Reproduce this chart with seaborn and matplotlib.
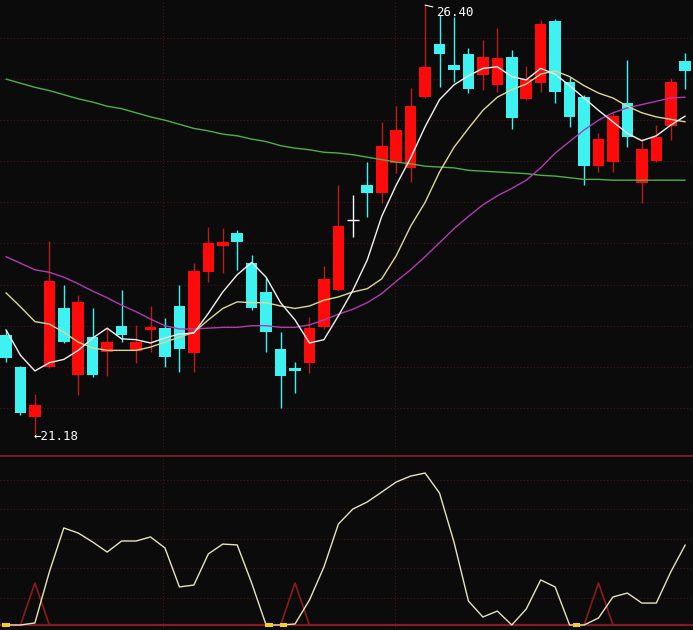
import numpy as np
import pandas as pd
import matplotlib
matplotlib.use("Agg")
import matplotlib.pyplot as plt
import seaborn as sns

# ── daily candles ─────────────────────────────────────────────────────────────
opens  = [22.39, 22.00, 21.39, 22.00, 22.72, 21.90, 22.36, 22.18, 22.50, 22.19,
          22.45, 22.47, 22.74, 22.17, 23.15, 23.47, 23.63, 23.26, 22.91, 22.22,
          21.99, 22.05, 22.48, 22.93, 23.79, 24.21, 24.11, 24.48, 24.42, 25.28,
          25.93, 25.67, 25.81, 25.55, 25.43, 25.77, 25.26, 25.45, 26.21, 25.46,
          25.28, 24.44, 24.49, 25.21, 24.24, 24.50, 24.93, 25.72]
highs  = [22.45, 22.01, 21.67, 23.53, 23.00, 22.87, 22.72, 22.47, 22.93, 22.51,
          22.74, 22.59, 23.00, 23.26, 23.70, 23.69, 23.66, 23.36, 23.08, 22.42,
          22.06, 22.61, 23.23, 24.21, 24.09, 24.49, 24.98, 25.17, 25.39, 26.40,
          26.28, 26.26, 25.88, 25.98, 26.12, 25.85, 25.66, 26.22, 26.23, 25.53,
          25.31, 24.84, 25.09, 25.73, 24.78, 24.94, 25.51, 25.82]
lows   = [22.06, 21.41, 21.18, 21.99, 22.29, 21.66, 21.88, 21.89, 22.30, 22.05,
          22.18, 22.00, 21.94, 21.94, 23.03, 23.14, 23.18, 22.69, 22.18, 21.50,
          21.68, 21.92, 22.46, 22.92, 23.58, 23.82, 23.99, 24.36, 24.25, 25.27,
          25.40, 25.46, 25.33, 25.37, 25.34, 24.89, 25.25, 25.34, 25.21, 24.92,
          24.21, 24.37, 24.37, 24.67, 23.99, 24.49, 24.76, 25.38]
closes = [22.11, 21.44, 21.54, 23.04, 22.30, 22.79, 21.90, 22.30, 22.39, 22.30,
          22.48, 22.12, 22.22, 23.17, 23.51, 23.52, 23.52, 22.72, 22.42, 21.89,
          21.95, 22.47, 23.07, 23.71, 23.79, 24.11, 24.69, 24.88, 25.17, 25.65,
          25.81, 25.61, 25.38, 25.77, 25.76, 25.03, 25.50, 26.17, 25.34, 25.04,
          24.44, 24.77, 25.05, 24.80, 24.65, 24.80, 25.46, 25.60]

# moving averages
ma5  = [22.45, 22.14, 21.95, 22.05, 22.09, 22.20, 22.35, 22.47, 22.34, 22.33,
        22.29, 22.35, 22.40, 22.41, 22.65, 22.91, 23.12, 23.27, 23.09, 22.78,
        22.57, 22.29, 22.33, 22.62, 22.93, 23.30, 23.83, 24.21, 24.54, 24.92,
        25.25, 25.43, 25.54, 25.63, 25.65, 25.53, 25.49, 25.63, 25.56, 25.42,
        25.27, 25.12, 24.98, 24.84, 24.75, 24.81, 24.94, 25.05]
ma10 = [22.90, 22.73, 22.55, 22.52, 22.42, 22.30, 22.23, 22.20, 22.20, 22.20,
        22.24, 22.30, 22.36, 22.42, 22.57, 22.71, 22.79, 22.78, 22.78, 22.74,
        22.71, 22.74, 22.81, 22.85, 22.91, 22.95, 23.07, 23.35, 23.71, 24.00,
        24.37, 24.67, 24.90, 25.12, 25.28, 25.37, 25.44, 25.56, 25.60, 25.53,
        25.42, 25.33, 25.27, 25.17, 25.09, 25.04, 25.01, 24.98]
ma20 = [23.34, 23.26, 23.18, 23.15, 23.09, 23.01, 22.92, 22.84, 22.75, 22.67,
        22.58, 22.50, 22.46, 22.46, 22.47, 22.48, 22.48, 22.50, 22.50, 22.48,
        22.48, 22.51, 22.57, 22.64, 22.70, 22.78, 22.89, 23.04, 23.18, 23.34,
        23.51, 23.68, 23.83, 23.97, 24.08, 24.17, 24.27, 24.42, 24.60, 24.74,
        24.88, 25.00, 25.09, 25.15, 25.19, 25.23, 25.27, 25.28]
ma60 = [25.50, 25.45, 25.40, 25.36, 25.31, 25.26, 25.22, 25.17, 25.14, 25.09,
        25.04, 25.00, 24.95, 24.90, 24.87, 24.83, 24.81, 24.77, 24.74, 24.69,
        24.66, 24.64, 24.61, 24.60, 24.58, 24.55, 24.52, 24.49, 24.47, 24.44,
        24.43, 24.42, 24.39, 24.38, 24.37, 24.36, 24.35, 24.33, 24.32, 24.30,
        24.28, 24.28, 24.27, 24.27, 24.27, 24.27, 24.27, 24.27]

# lower oscillator panel
osc = [0.0, 0.0, 1.2, 31.2, 57.1, 54.1, 48.8, 42.9, 49.4, 49.4,
       51.8, 45.3, 22.4, 23.5, 41.8, 47.6, 47.1, 24.7, 0.0, 0.0,
       0.6, 14.7, 34.1, 59.4, 68.2, 72.4, 78.2, 84.1, 87.6, 89.4,
       77.6, 48.8, 14.1, 4.7, 8.2, 0.0, 9.4, 26.5, 22.4, 0.0,
       0.0, 4.1, 16.5, 18.8, 12.9, 12.9, 31.2, 47.1]
signal = [0.0] * 48
signal[2] = signal[20] = signal[41] = 24.7
zero_marks = [0.0, 18.2, 19.2, 39.5]

hi_label = "26.40"
lo_label = "←21.18"

# ─────────────────────────────────────────────────────────────────────────────
bg = "#0b0b0b"
grid_c = "#4a1616"
sns.set_theme(style="dark", rc={"axes.facecolor": bg, "figure.facecolor": bg})
plt.rcParams["font.family"] = ["DejaVu Sans Mono", "DejaVu Sans"]

df = pd.DataFrame({"i": np.arange(len(opens)), "open": opens, "high": highs,
                   "low": lows, "close": closes, "ma5": ma5, "ma10": ma10,
                   "ma20": ma20, "ma60": ma60, "osc": osc, "signal": signal})

fig = plt.figure(figsize=(6.93, 6.30), dpi=100)
ax = fig.add_axes([0, 1 - 450 / 630, 1, 450 / 630])
ax2 = fig.add_axes([0, 0, 1, 175 / 630])
xlim = (-0.415, 47.54)
vgrid = [10.87, 26.9]

# main panel grid
ax.set_xlim(*xlim)
ax.set_ylim(20.988, 26.462)
for p in np.arange(21.5, 26.01, 0.5):
    ax.axhline(p, color=grid_c, lw=0.8, ls=(0, (1, 2)), zorder=0)
for v in vgrid:
    ax.axvline(v, color=grid_c, lw=0.8, ls=(0, (1, 2)), zorder=0)

# candles
up = df[df.close > df.open]
dn = df[df.close < df.open]
dj = df[df.close == df.open]
ax.vlines(up.i, up.low, up.high, color="#b81c1c", lw=1.0, zorder=2)
ax.vlines(dn.i, dn.low, dn.high, color="#3ff2f2", lw=1.0, zorder=2)
ax.vlines(dj.i, dj.low, dj.high, color="white", lw=1.0, zorder=2)
ax.bar(up.i, up.close - up.open, bottom=up.open, width=0.8, color="#ff0a0a", lw=0, zorder=3)
ax.bar(dn.i, dn.open - dn.close, bottom=dn.close, width=0.8, color="#3ff2f2", lw=0, zorder=3)
ax.hlines(dj.open, dj.i - 0.4, dj.i + 0.4, color="white", lw=1.0, zorder=3)

# moving averages
for col, c in [("ma60", "#4fae4f"), ("ma20", "#b03cb0"), ("ma10", "#ddd79a"), ("ma5", "#f2f2f2")]:
    sns.lineplot(data=df, x="i", y=col, ax=ax, color=c, lw=1.0, legend=False, zorder=4)

# extreme labels
hi_i = int(np.argmax(highs))
lo_i = int(np.argmin(lows))
ax.annotate(hi_label, xy=(hi_i, highs[hi_i]), xytext=(8, -5), textcoords="offset points",
            ha="left", va="center", color="white", fontsize=9,
            arrowprops=dict(arrowstyle="-", color="white", lw=0.8, shrinkA=0, shrinkB=0))
ax.annotate(lo_label, xy=(lo_i, lows[lo_i]), xytext=(-1, -2), textcoords="offset points",
            ha="left", va="center", color="white", fontsize=9)

ax.set_xticks([]); ax.set_yticks([])
ax.set_xlabel(""); ax.set_ylabel("")
for s in ax.spines.values():
    s.set_visible(False)

# lower panel
ax2.set_xlim(*xlim)
ax2.set_ylim(-2.94, 100)
for g in [15.9, 33.5, 50.6, 68.2, 85.3]:
    ax2.axhline(g, color=grid_c, lw=0.8, ls=(0, (1, 2)), zorder=0)
for v in vgrid:
    ax2.axvline(v, color=grid_c, lw=0.8, ls=(0, (1, 2)), zorder=0)
ax2.axhline(100, color="#7a1c2a", lw=2.0, zorder=1)
ax2.axhline(0, color="#7a1c1c", lw=1.6, zorder=1)
sns.lineplot(data=df, x="i", y="signal", ax=ax2, color="#8a1c1c", lw=1.2, legend=False, zorder=2)
sns.lineplot(data=df, x="i", y="osc", ax=ax2, color="#e6e3bf", lw=1.0, legend=False, zorder=3)
ax2.bar(zero_marks, [1.8] * len(zero_marks), bottom=-0.9, width=0.5, color="#f5d020", lw=0, zorder=4)
ax2.set_xticks([]); ax2.set_yticks([])
ax2.set_xlabel(""); ax2.set_ylabel("")
for s in ax2.spines.values():
    s.set_visible(False)

plt.savefig("out.png", dpi=100, facecolor=bg)
